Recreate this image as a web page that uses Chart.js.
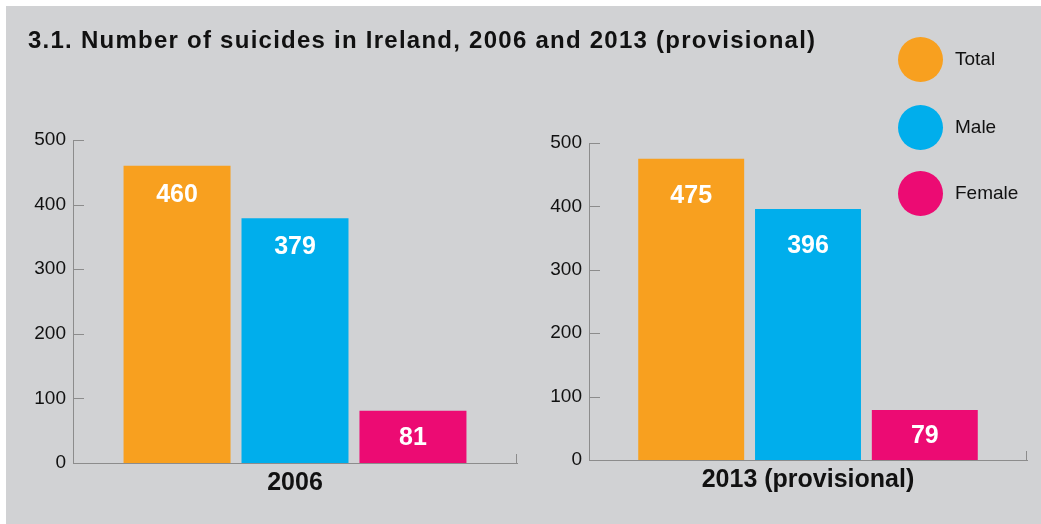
<!DOCTYPE html>
<html>
<head>
<meta charset="utf-8">
<script src="https://cdn.jsdelivr.net/npm/chart.js@4.4.1/dist/chart.umd.min.js"></script>
<style>
  html, body { margin: 0; padding: 0; background: #fff; }
  #wrap { position: absolute; left: 6px; top: 6px; width: 1035px; height: 518px; background: #d1d2d4; }
  .box { position: absolute; top: 0; height: 524px; }
  #c2006box { left: 0; width: 540px; }
  #c2013box { left: 540px; width: 501px; }
  #title { position: absolute; left: 28px; top: 26px; font: bold 24px "Liberation Sans", Arial, sans-serif; letter-spacing: 1.25px; color: #111; white-space: nowrap; }
  .leg { position: absolute; left: 898px; width: 45px; height: 45px; border-radius: 50%; }
  .legtxt { position: absolute; left: 955px; font: 19px "Liberation Sans", Arial, sans-serif; color: #111; line-height: 20px; }
</style>
</head>
<body>
<div id="wrap"></div>
<div class="box" id="c2006box"><canvas id="c2006"></canvas></div>
<div class="box" id="c2013box"><canvas id="c2013"></canvas></div>
<div id="title">3.1. Number of suicides in Ireland, 2006 and 2013 (provisional)</div>
<div id="legend"></div>
<script>
const seriesNames = ["Total", "Male", "Female"];
const seriesColors = ["#f8a01f", "#00aeec", "#ec0b73"];
const values2006 = [460, 379, 81];
const values2013 = [475, 396, 79];
const yTicks = [0, 100, 200, 300, 400, 500];

// legend (html)
const legend = document.getElementById("legend");
const legendY = [59, 127, 193];
seriesNames.forEach((name, i) => {
  const dot = document.createElement("div");
  dot.className = "leg";
  dot.style.top = (legendY[i] - 22) + "px";
  dot.style.background = seriesColors[i];
  legend.appendChild(dot);
  const t = document.createElement("div");
  t.className = "legtxt";
  t.style.top = (legendY[i] - 10) + "px";
  t.textContent = name;
  legend.appendChild(t);
});

const axisColor = "#8c8c8c";

// value labels inside bars + inward ticks
const decor = {
  id: "decor",
  afterDatasetsDraw(chart, args, opts) {
    const ctx = chart.ctx;
    ctx.save();
    ctx.fillStyle = "#fff";
    ctx.font = "bold 25px 'Liberation Sans', Arial, sans-serif";
    ctx.textAlign = "center";
    ctx.textBaseline = "middle";
    chart.data.datasets.forEach((ds, i) => {
      chart.getDatasetMeta(i).data.forEach((bar, j) => {
        const h = bar.base - bar.y;
        const off = Math.min(opts.offset, h / 2);
        ctx.fillText(String(ds.data[j]), bar.x, bar.y + off + 1);
      });
    });
    const y = chart.scales.y;
    const area = chart.chartArea;
    ctx.strokeStyle = axisColor;
    ctx.lineWidth = 1;
    ctx.beginPath();
    y.ticks.forEach((t, i) => {
      const py = Math.round(y.getPixelForTick(i)) + 0.5;
      ctx.moveTo(area.left, py);
      ctx.lineTo(area.left + 11, py);
    });
    ctx.moveTo(Math.round(area.right) - 0.5, area.bottom);
    ctx.lineTo(Math.round(area.right) - 0.5, area.bottom - 9);
    ctx.stroke();
    ctx.restore();
  }
};

function makeChart(id, label, values, cfg) {
  return new Chart(document.getElementById(id), {
    type: "bar",
    data: {
      labels: [label],
      datasets: seriesNames.map((name, i) => ({
        label: name,
        data: [values[i]],
        backgroundColor: seriesColors[i],
        categoryPercentage: cfg.cat,
        barPercentage: 0.907
      }))
    },
    options: {
      responsive: true,
      maintainAspectRatio: false,
      animation: false,
      layout: { padding: { top: cfg.top, right: cfg.right, left: 0, bottom: 0 } },
      plugins: {
        legend: { display: false },
        tooltip: { enabled: false },
        decor: { offset: cfg.offset }
      },
      scales: {
        x: {
          grid: { display: false, drawTicks: false },
          border: { color: axisColor },
          ticks: { color: "#111", padding: 5, font: { family: "'Liberation Sans', Arial, sans-serif", size: 25, weight: "bold" } },
          afterFit: s => { s.height = cfg.xh; }
        },
        y: {
          min: 0, max: 500,
          afterBuildTicks: s => { s.ticks = yTicks.map(v => ({ value: v })); },
          grid: { display: false, drawTicks: false },
          border: { color: axisColor },
          ticks: { color: "#111", padding: 7, font: { family: "'Liberation Sans', Arial, sans-serif", size: 19 } },
          afterFit: s => { s.width = cfg.yw; }
        }
      }
    },
    plugins: [decor]
  });
}

makeChart("c2006", "2006", values2006, { top: 140, right: 23, xh: 61, yw: 73, cat: 0.797, offset: 28 });
makeChart("c2013", "2013 (provisional)", values2013, { top: 143, right: 14, xh: 64, yw: 49, cat: 0.80, offset: 36 });
</script>
</body>
</html>
